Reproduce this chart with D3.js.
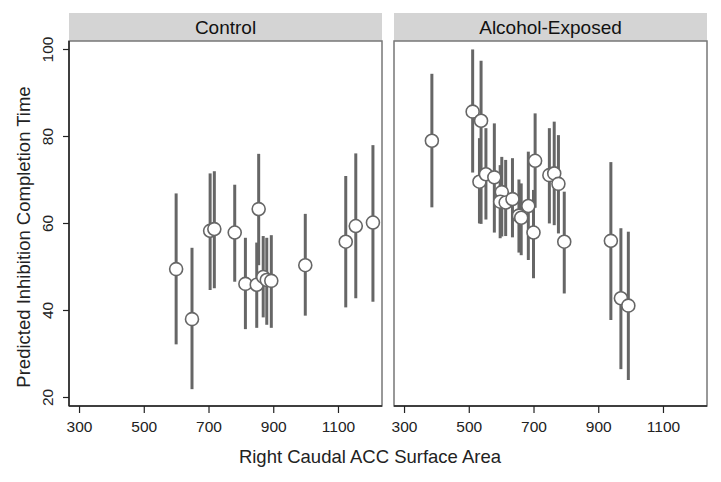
<!DOCTYPE html>
<html>
<head>
<meta charset="utf-8">
<script src="https://cdn.jsdelivr.net/npm/d3@7"></script>
<style>
  body { margin: 0; background: #fff; }
  svg { display: block; font-family: "Liberation Sans", Arial, Helvetica, sans-serif; }
</style>
</head>
<body>
<svg id="chart" width="721" height="482"></svg>
<script>
// ---- data ----
const panels = ["Control", "Alcohol-Exposed"];
const xTicks = [300, 500, 700, 900, 1100];
const yTicks = [20, 40, 60, 80, 100];

const controlX  = [600, 649, 705, 718, 781, 814, 849, 855, 869, 880, 894, 999, 1124, 1155, 1208];
const controlY  = [49.4, 37.9, 58.2, 58.6, 57.8, 46.0, 45.8, 63.2, 47.6, 46.9, 46.7, 50.3, 55.7, 59.3, 60.1];
const controlLo = [32.1, 21.8, 44.6, 45.0, 46.5, 35.6, 35.9, 50.3, 38.3, 36.6, 35.9, 38.7, 40.6, 42.7, 41.9];
const controlHi = [66.8, 54.3, 71.4, 71.9, 68.8, 56.6, 55.5, 75.9, 57.0, 56.6, 57.2, 62.1, 70.8, 76.0, 77.9];

const exposedX  = [386, 512, 538, 533, 553, 579, 602, 597, 614, 635, 655, 662, 684, 700, 705, 749, 764, 777, 795, 939, 970, 993];
const exposedY  = [78.9, 85.6, 83.5, 69.5, 71.2, 70.5, 67.1, 64.9, 64.7, 65.5, 61.7, 61.2, 63.9, 57.8, 74.3, 71.0, 71.4, 69.0, 55.7, 55.9, 42.7, 41.0];
const exposedLo = [63.6, 71.6, 59.8, 59.9, 60.8, 57.8, 56.9, 56.5, 57.0, 56.7, 53.2, 52.6, 51.5, 47.3, 63.5, 59.9, 59.5, 57.6, 43.8, 37.7, 26.4, 23.9];
const exposedHi = [94.3, 99.9, 97.3, 79.5, 81.8, 82.9, 75.2, 73.3, 74.5, 74.9, 70.0, 69.1, 76.4, 67.6, 85.2, 81.8, 83.3, 80.2, 67.2, 74.0, 58.8, 58.0];

const xTitle = "Right Caudal ACC Surface Area";
const yTitle = "Predicted Inhibition Completion Time";

// ---- build ----
function rows(xs, ys, lo, hi) { return xs.map((x, i) => ({x, y: ys[i], lo: lo[i], hi: hi[i]})); }
const panelData = [rows(controlX, controlY, controlLo, controlHi), rows(exposedX, exposedY, exposedLo, exposedHi)];

const svg = d3.select("#chart");
const panelLeft = [69, 394];
const panelW = 313;
const stripTop = 13, plotTop = 41, plotBottom = 406;
const tickFont = 15.5;

const y = d3.scaleLinear().domain([17.93, 101.84]).range([plotBottom, plotTop]);

panels.forEach((name, p) => {
  const x0 = panelLeft[p];
  const x = d3.scaleLinear().domain([269, 1236]).range([x0, x0 + panelW]);
  const g = svg.append("g");

  // strip
  g.append("rect").attr("x", x0).attr("y", stripTop).attr("width", panelW).attr("height", plotTop - stripTop)
    .attr("fill", "#d4d4d4");
  g.append("text").attr("x", x0 + panelW / 2).attr("y", 33.5).attr("text-anchor", "middle")
    .attr("font-size", 19).attr("fill", "#111").text(name);

  // frame (gray)
  g.append("rect").attr("x", x0).attr("y", plotTop).attr("width", panelW).attr("height", plotBottom - plotTop)
    .attr("fill", "none").attr("stroke", "#777").attr("stroke-width", 1.5);

  // x axis
  const xa = g.append("g").attr("transform", `translate(0,${plotBottom})`)
    .call(d3.axisBottom(x).tickValues(xTicks).tickFormat(d3.format("d")).tickSize(7).tickSizeOuter(0).tickPadding(8));
  xa.select(".domain").attr("stroke", "#222").attr("stroke-width", 1.5).attr("d", `M${x0},0H${x0 + panelW}`);
  xa.selectAll(".tick line").attr("stroke", "#222").attr("stroke-width", 1.2);
  xa.selectAll(".tick text").attr("font-size", tickFont).attr("fill", "#222").attr("font-family", "Liberation Sans, Arial, sans-serif");

  // y axis (left panel only)
  if (p === 0) {
    const ya = g.append("g").attr("transform", `translate(${x0},0)`)
      .call(d3.axisLeft(y).tickValues(yTicks).tickFormat(d3.format("d")).tickSize(6).tickSizeOuter(0).tickPadding(0));
    ya.select(".domain").attr("stroke", "#222").attr("stroke-width", 1.5).attr("d", `M0,${plotTop}V${plotBottom}`);
    ya.selectAll(".tick line").attr("stroke", "#222").attr("stroke-width", 1.2);
    ya.selectAll(".tick text").attr("font-size", tickFont).attr("fill", "#222")
      .attr("font-family", "Liberation Sans, Arial, sans-serif")
      .attr("text-anchor", "middle").attr("dy", null).attr("x", null)
      .attr("transform", "translate(-19,0) rotate(-90)").attr("y", 3);
  }

  // error bars
  g.selectAll("line.err").data(panelData[p]).join("line").attr("class", "err")
    .attr("x1", d => x(d.x)).attr("x2", d => x(d.x))
    .attr("y1", d => y(d.lo)).attr("y2", d => y(d.hi))
    .attr("stroke", "#666").attr("stroke-width", 3);

  // points
  g.selectAll("circle.pt").data(panelData[p]).join("circle").attr("class", "pt")
    .attr("cx", d => x(d.x)).attr("cy", d => y(d.y)).attr("r", 6.5)
    .attr("fill", "#fff").attr("stroke", "#666").attr("stroke-width", 1.6);
});

// titles
svg.append("text").attr("x", 370).attr("y", 463).attr("text-anchor", "middle")
  .attr("font-size", 18.5).attr("fill", "#222").text(xTitle);
svg.append("text").attr("transform", "translate(30,237) rotate(-90)").attr("text-anchor", "middle")
  .attr("font-size", 18.5).attr("fill", "#222").text(yTitle);
</script>
</body>
</html>
